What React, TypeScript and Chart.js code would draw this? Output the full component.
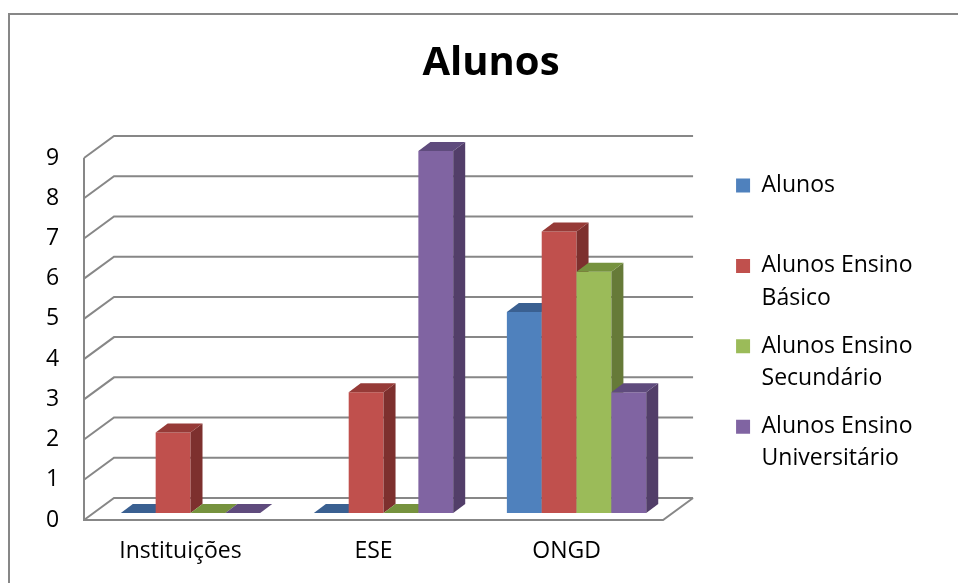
import { useEffect, useRef } from 'react';
import { Chart, registerables } from 'chart.js';

Chart.register(...registerables);

// Chart content
const categories = ['Instituições', 'ESE', 'ONGD'];
const seriesNames = ['Alunos', 'Alunos Ensino Básico', 'Alunos Ensino Secundário', 'Alunos Ensino Universitário'];
const legendLines = [
  ['Alunos', ''],
  ['Alunos Ensino', 'Básico'],
  ['Alunos Ensino', 'Secundário'],
  ['Alunos Ensino', 'Universitário'],
];
const alunos = [0, 0, 5];
const ensinoBasico = [2, 3, 7];
const ensinoSecundario = [0, 0, 6];
const ensinoUniversitario = [0, 9, 3];
const seriesValues = [alunos, ensinoBasico, ensinoSecundario, ensinoUniversitario];
const yMin = 0;
const yMax = 9;
const yStep = 1;

// Face colours: front, top and side of each 3D column
const frontColors = ['#4F81BD', '#C0504D', '#9BBB59', '#8064A2'];
const topColors = ['#3A6091', '#963A37', '#76923E', '#5F4B7D'];
const sideColors = ['#2F5078', '#7D302E', '#667A38', '#523E69'];

// 3D geometry (pixels)
const WALL_DX = 30;
const WALL_DY = 22;
const BAR_SHIFT_X = 10;
const BAR_SHIFT_Y = 7;
const BAR_DX = 12;
const BAR_DY = 9;
const LINE_GRAY = '#878787';

const perspective = {
  id: 'perspective',
  beforeDraw(chart: any) {
    const ctx = chart.ctx;
    ctx.save();
    ctx.fillStyle = '#ffffff';
    ctx.fillRect(0, 0, chart.width, chart.height);
    ctx.strokeStyle = LINE_GRAY;
    ctx.lineWidth = 2;
    ctx.strokeRect(9, 14, chart.width + 40, chart.height + 40);
    ctx.restore();
  },
  beforeDatasetsDraw(chart: any) {
    const ctx = chart.ctx;
    const x = chart.scales.x;
    const y = chart.scales.y;
    const left = x.left;
    const right = x.right;
    ctx.save();
    ctx.strokeStyle = LINE_GRAY;
    ctx.lineWidth = 2;
    ctx.beginPath();
    y.ticks.forEach((t: any) => {
      const py = y.getPixelForValue(t.value);
      ctx.moveTo(left, py);
      ctx.lineTo(left + WALL_DX, py - WALL_DY);
      ctx.lineTo(right + WALL_DX, py - WALL_DY);
    });
    const p0 = y.getPixelForValue(yMin);
    const pTop = y.getPixelForValue(yMax);
    ctx.moveTo(left, pTop);
    ctx.lineTo(left, p0);
    ctx.lineTo(right, p0);
    ctx.lineTo(right + WALL_DX, p0 - WALL_DY);
    ctx.stroke();
    ctx.restore();
  },
  beforeDatasetDraw() {
    return false;
  },
  afterDatasetsDraw(chart: any) {
    const ctx = chart.ctx;
    const bars: { el: any; di: number }[] = [];
    chart.data.datasets.forEach((_ds: any, di: number) => {
      if (!chart.isDatasetVisible(di)) return;
      chart.getDatasetMeta(di).data.forEach((el: any) => bars.push({ el, di }));
    });
    // paint left to right so each column hides the side face of its left neighbour
    bars.sort((a, b) => a.el.x - b.el.x);
    bars.forEach(({ el, di }) => {
      const { x, y, base, width } = el.getProps(['x', 'y', 'base', 'width'], true);
      const l = x - width / 2 + BAR_SHIFT_X;
      const r = x + width / 2 + BAR_SHIFT_X;
      const t = y - BAR_SHIFT_Y;
      const b = base - BAR_SHIFT_Y;
      ctx.save();
      ctx.translate(BAR_SHIFT_X, -BAR_SHIFT_Y);
      el.draw(ctx);
      ctx.restore();
      ctx.save();
      ctx.fillStyle = sideColors[di];
      ctx.beginPath();
      ctx.moveTo(r, t);
      ctx.lineTo(r + BAR_DX, t - BAR_DY);
      ctx.lineTo(r + BAR_DX, b - BAR_DY);
      ctx.lineTo(r, b);
      ctx.closePath();
      ctx.fill();
      ctx.fillStyle = topColors[di];
      ctx.beginPath();
      ctx.moveTo(l, t);
      ctx.lineTo(l + BAR_DX, t - BAR_DY);
      ctx.lineTo(r + BAR_DX, t - BAR_DY);
      ctx.lineTo(r, t);
      ctx.closePath();
      ctx.fill();
      ctx.restore();
    });
  },
};

export default function App() {
  const canvasRef = useRef<HTMLCanvasElement | null>(null);

  useEffect(() => {
    if (!canvasRef.current) return;
    Chart.defaults.font.family = "'Open Sans', sans-serif";
    Chart.defaults.color = '#000000';

    const chart = new Chart(canvasRef.current, {
      type: 'bar',
      data: {
        labels: categories,
        datasets: seriesValues.map((values, i) => ({
          label: seriesNames[i],
          data: values,
          backgroundColor: frontColors[i],
          borderWidth: 0,
          barPercentage: 1,
          categoryPercentage: 0.722,
        })),
      },
      options: {
        animation: false,
        responsive: false,
        devicePixelRatio: 1,
        events: [],
        layout: { padding: { left: 59.5, right: 35.5, top: 0, bottom: 0 } },
        scales: {
          x: {
            type: 'category',
            stack: 'floor',
            stackWeight: 579,
            grid: { display: false, drawTicks: false },
            border: { display: false },
            ticks: {
              padding: 18,
              color: '#000',
              font: { size: 23 },
              autoSkip: false,
              minRotation: 0,
              maxRotation: 0,
            },
            afterFit: (s: any) => {
              s.height = 63;
              s.paddingLeft = 0;
              s.paddingRight = 0;
            },
          },
          // room for the receding floor edge, between the floor and the legend
          depth: {
            type: 'linear',
            position: 'bottom',
            stack: 'floor',
            stackWeight: 57,
            grid: { display: false, drawTicks: false },
            border: { display: false },
            ticks: { display: false },
            afterFit: (s: any) => {
              s.height = 63;
              s.paddingLeft = 0;
              s.paddingRight = 0;
            },
          },
          y: {
            min: yMin,
            max: yMax,
            grid: { display: false, drawTicks: false },
            border: { display: false },
            ticks: {
              stepSize: yStep,
              mirror: true,
              padding: -38,
              color: '#000',
              font: { size: 23, lineHeight: 1.2 },
            },
            afterFit: (s: any) => {
              s.width = 24.5;
            },
          },
        },
        plugins: {
          tooltip: { enabled: false },
          title: {
            display: true,
            text: 'Alunos',
            color: '#000',
            font: { size: 40, weight: 'bold', lineHeight: 1.2 },
            padding: { top: 40, bottom: 70 },
          },
          legend: {
            position: 'right',
            align: 'start',
            fullSize: false,
            labels: {
              boxWidth: 14,
              boxHeight: 14,
              padding: 16,
              color: '#000',
              font: { size: 23, lineHeight: 1.4 },
              generateLabels: (c: any) => {
                const items = Chart.defaults.plugins.legend.labels.generateLabels(c);
                return items.map((it: any, i: number) => ({ ...it, text: legendLines[i], lineWidth: 0 }));
              },
            },
          },
        },
      },
      plugins: [perspective],
    } as any);

    return () => chart.destroy();
  }, []);

  return (
    <div style={{ position: 'fixed', left: 0, top: 0, width: 958, height: 583, background: '#fff' }}>
      <canvas ref={canvasRef} width={958} height={583} />
    </div>
  );
}
